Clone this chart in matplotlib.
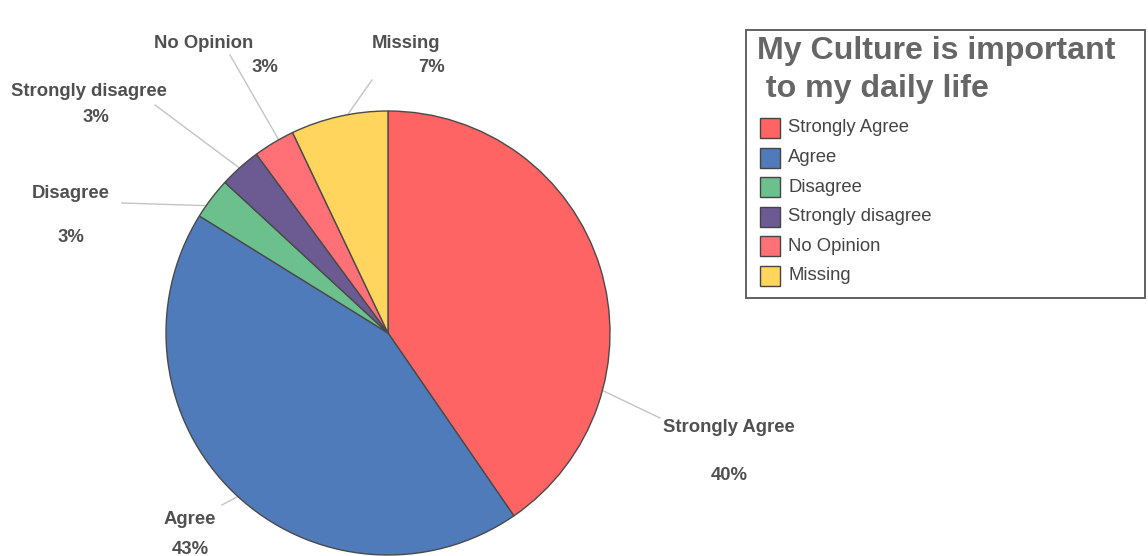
import matplotlib
matplotlib.use("Agg")
import matplotlib.pyplot as plt
from matplotlib.patches import Rectangle
import numpy as np

plt.rcParams['font.family'] = ['Liberation Sans', 'DejaVu Sans']

# Survey responses (percent)
categories = ["Strongly Agree", "Agree", "Disagree", "Strongly disagree", "No Opinion", "Missing"]
percents = [40, 43, 3, 3, 3, 7]
colors = ["#FF6464", "#4F7BBA", "#6CC08E", "#6C5A93", "#FF7176", "#FFD55E"]
title_lines = ["My Culture is important", " to my daily life"]

# Label layout (figure pixels, y measured from top) and leader-line rim angles
label_pos = {
    "Strongly Agree":    ((729, 428), (729, 475)),
    "Agree":             ((190, 520), (190, 549)),
    "Disagree":          ((71, 194), (71, 237)),
    "Strongly disagree": ((89, 91), (96, 117)),
    "No Opinion":        ((204, 43), (265, 68)),
    "Missing":           ((406, 43), (432, 68)),
}
leader = {
    "Strongly Agree":    (105, (660, 418)),
    "Agree":             (222.6, (222, 505)),
    "Disagree":          (305, (122, 203)),
    "Strongly disagree": (318, (155, 105)),
    "No Opinion":        (330.5, (230, 55)),
    "Missing":           (349.5, (372, 80)),
}

W, H = 1148, 556
fig = plt.figure(figsize=(W / 100, H / 100), dpi=100)
ax = fig.add_axes([0, 0, 1, 1])

cx, cy, r = 388, H - 333, 222
wedges, _ = ax.pie(percents, colors=colors, startangle=90, counterclock=False,
                   center=(cx, cy), radius=r,
                   wedgeprops=dict(edgecolor="#4a4a4a", linewidth=1.0))
ax.set_xlim(0, W)
ax.set_ylim(0, H)
ax.set_aspect("equal")
ax.axis("off")

txt_color = "#505050"
for cat, pct in zip(categories, percents):
    ang, (ex, ey) = leader[cat]
    t = np.deg2rad(ang)
    sx, sy = cx + r * np.sin(t), cy + r * np.cos(t)
    ax.plot([sx, ex], [sy, H - ey], color="#c4c4c4", lw=1.0, zorder=0)
    (nx, ny), (px, py) = label_pos[cat]
    ax.text(nx, H - ny, cat, ha="center", va="center", fontsize=13.3,
            fontweight="bold", color=txt_color)
    ax.text(px, H - py, f"{pct}%", ha="center", va="center", fontsize=13.3,
            fontweight="bold", color=txt_color)

# Legend box with title
ax.add_patch(Rectangle((746, H - 298), 399, 268, facecolor="white",
                       edgecolor="#555555", linewidth=1.3, zorder=3))
for i, line in enumerate(title_lines):
    ax.text(757, H - (51 + 38 * i), line, ha="left", va="center", fontsize=23.1,
            fontweight="bold", color="#666666", zorder=4)
for i, (cat, col) in enumerate(zip(categories, colors)):
    yc = H - (128 + 29.6 * i)
    ax.add_patch(Rectangle((760, yc - 10), 20, 20, facecolor=col,
                           edgecolor="#444444", linewidth=1.0, zorder=4))
    ax.text(788, yc, cat, ha="left", va="center", fontsize=13.3,
            color="#444444", zorder=4)

fig.savefig("out.png", dpi=100)
